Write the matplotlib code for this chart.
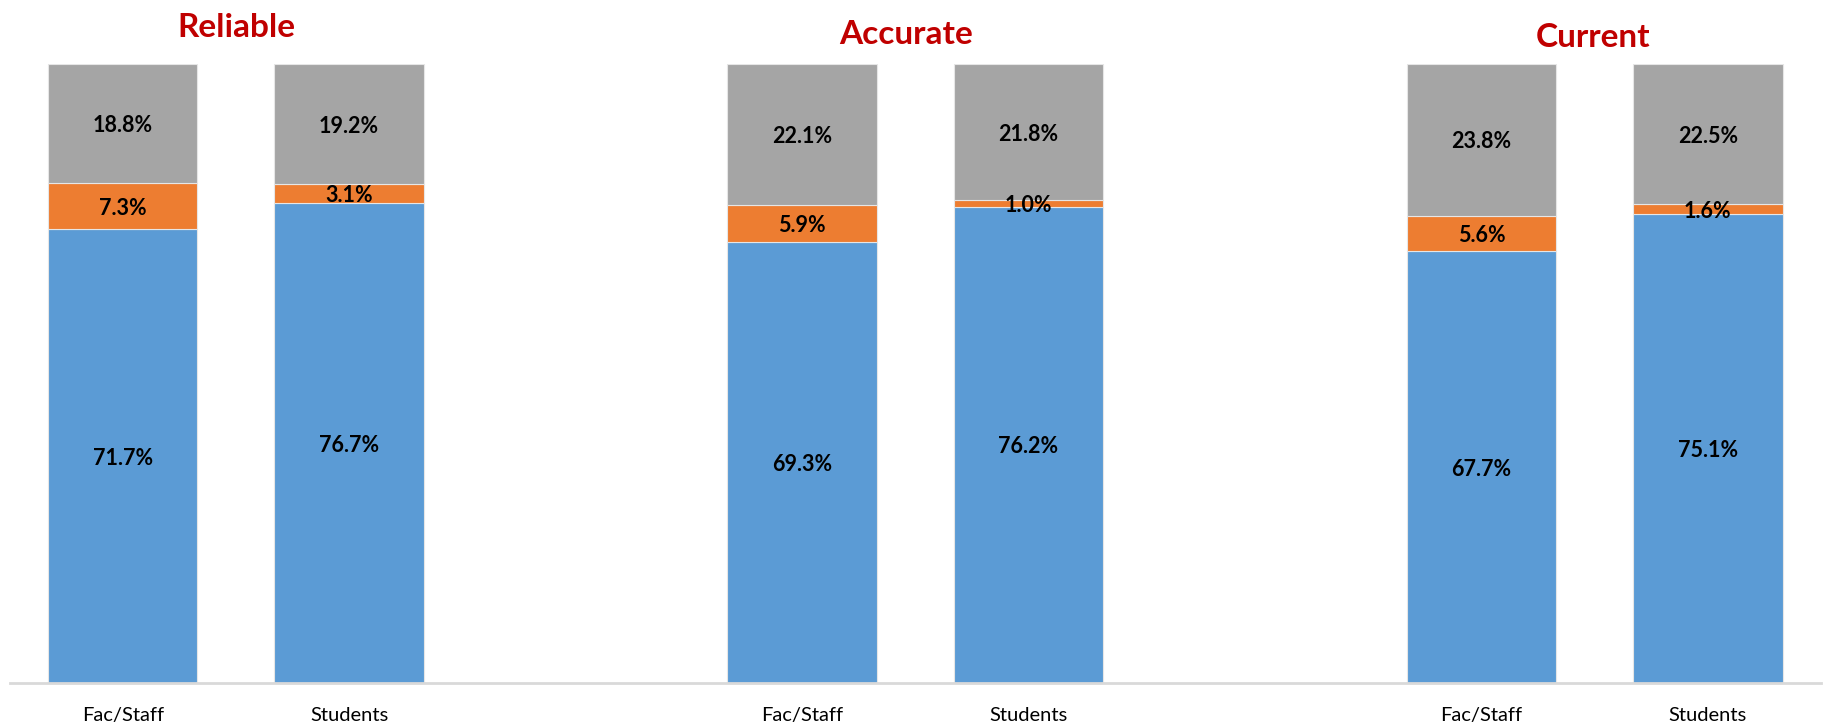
import numpy as np
import matplotlib.pyplot as plt

plt.rcParams['font.family'] = ['Lato', 'DejaVu Sans']

groups = ['Reliable', 'Accurate', 'Current']
respondents = ['Fac/Staff', 'Students']

# values per bar, in order Reliable F/S, Reliable Stu, Accurate F/S, ...
blue_vals = [71.7, 76.7, 69.3, 76.2, 67.7, 75.1]
orange_vals = [7.3, 3.1, 5.9, 1.0, 5.6, 1.6]
gray_vals = [18.8, 19.2, 22.1, 21.8, 23.8, 22.5]

colors = ['#5B9BD5', '#ED7D31', '#A5A5A5']

# two bars per group, one empty slot between groups
positions = [0, 1, 3, 4, 6, 7]
tick_labels = respondents * len(groups)

fig = plt.figure(figsize=(18.28, 7.28), dpi=100)
ax = fig.add_axes([0.0052, 0.0618, 0.991, 0.8502])

stack = np.array([blue_vals, orange_vals, gray_vals])
totals = stack.sum(axis=0)
shares = stack / totals  # 100% stacked

bottom = np.zeros(len(positions))
for i, (vals, share) in enumerate(zip(stack, shares)):
    ax.bar(positions, share, bottom=bottom, width=0.66, color=colors[i],
           edgecolor='#E6E6E6', linewidth=0.8)
    for x, b, h, v in zip(positions, bottom, share, vals):
        ax.text(x, b + h / 2, f'{v:.1f}%', ha='center', va='center_baseline',
                fontsize=15.5, fontweight='bold', color='black')
    bottom = bottom + share

ax.set_xlim(-0.5, 7.5)
ax.set_ylim(0, 1)
ax.set_xticks(positions)
ax.set_xticklabels(tick_labels, fontsize=14.5)
ax.tick_params(axis='x', length=0, pad=17)
ax.set_yticks([])
for side in ['top', 'right', 'left']:
    ax.spines[side].set_visible(False)
ax.spines['bottom'].set_color('#D9D9D9')
ax.spines['bottom'].set_linewidth(2)

# group titles
title_y = [0.962, 0.953, 0.949]
title_dx = [0.0, -0.005, -0.001]
for g, (name, ty, dx) in enumerate(zip(groups, title_y, title_dx)):
    cx = ax.transData.transform(((positions[2 * g] + positions[2 * g + 1]) / 2, 0))[0]
    fx = fig.transFigure.inverted().transform((cx, 0))[0]
    fig.text(fx + dx, ty, name, ha='center', va='center', fontsize=24,
             fontweight='bold', color='#C00000')

fig.savefig('out.png', dpi=100)
